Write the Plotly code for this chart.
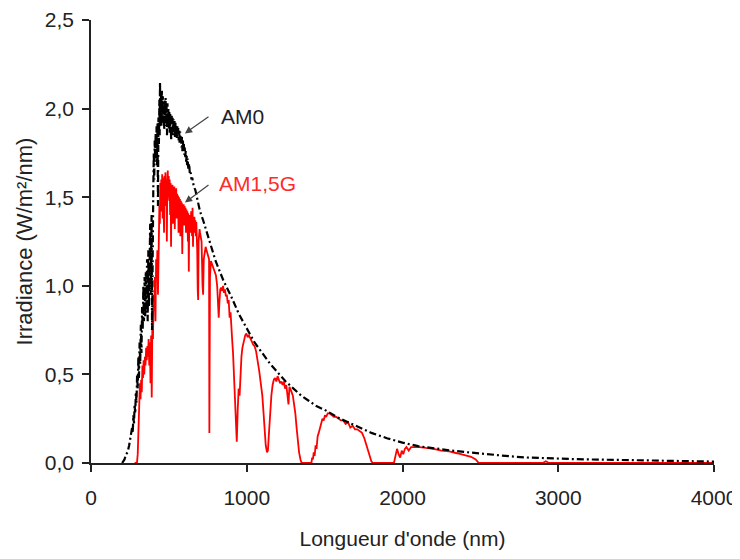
import plotly.graph_objects as go

# ---- data ----
am0_wl = [200, 215, 225, 235, 245, 252, 258, 264, 268, 272, 276, 280, 284, 288, 292, 296, 300, 304,
          308, 312, 316, 320, 324, 328, 332, 336, 340, 344, 348, 352, 356, 360, 364, 368, 372, 376,
          380, 383, 386, 389, 392, 395, 397, 400, 403, 406, 409, 412, 415, 418, 421, 424, 427, 430,
          433, 436, 439, 441, 443, 446, 449, 452, 455, 458, 461, 464, 467, 470, 473, 476, 479, 482,
          485, 488, 491, 494, 497, 500, 503, 506, 509, 512, 515, 518, 521, 524, 527, 530, 533, 536,
          539, 542, 545, 548, 551, 554, 557, 560, 563, 566, 569, 572, 575, 578, 581, 584, 587, 590,
          593, 596, 599, 602, 605, 608, 611, 614, 617, 620, 625, 630, 635, 640, 645, 650, 660, 670,
          680, 690, 700, 720, 750, 780, 800, 850, 900, 950, 1000, 1050, 1100, 1150, 1200, 1250, 1300,
          1350, 1400, 1450, 1500, 1600, 1700, 1800, 1900, 2000, 2100, 2200, 2300, 2400, 2500, 2600,
          2700, 2800, 2900, 3000, 3100, 3200, 3300, 3400, 3500, 3600, 3700, 3800, 3900, 4000]
am0_val = [0.00, 0.02, 0.05, 0.06, 0.10, 0.13, 0.16, 0.20, 0.17, 0.27, 0.22, 0.33, 0.28, 0.40, 0.34,
           0.50, 0.42, 0.60, 0.48, 0.68, 0.56, 0.78, 0.62, 0.88, 0.75, 1.00, 0.80, 1.05, 0.82, 1.08,
           0.85, 1.15, 0.80, 1.20, 0.88, 1.25, 1.35, 0.95, 1.25, 1.40, 0.75, 1.30, 0.80, 1.55, 1.75,
           1.60, 1.82, 1.70, 1.86, 1.72, 1.90, 1.68, 1.92, 1.45, 1.95, 1.80, 2.05, 1.85, 2.15, 1.95,
           2.08, 1.90, 2.10, 1.92, 2.07, 1.95, 2.04, 1.88, 2.05, 1.92, 2.06, 1.90, 2.02, 1.85, 2.03,
           1.92, 2.00, 1.88, 1.98, 1.86, 1.97, 1.90, 1.82, 1.96, 1.86, 1.95, 1.85, 1.94, 1.87, 1.93,
           1.84, 1.92, 1.86, 1.91, 1.83, 1.90, 1.85, 1.89, 1.82, 1.88, 1.80, 1.87, 1.81, 1.85, 1.78,
           1.84, 1.76, 1.82, 1.77, 1.80, 1.74, 1.78, 1.72, 1.76, 1.70, 1.74, 1.68, 1.72, 1.66, 1.69,
           1.63, 1.64, 1.60, 1.61, 1.56, 1.54, 1.50, 1.46, 1.42, 1.37, 1.28, 1.20, 1.14, 1.03, 0.94,
           0.84, 0.76, 0.68, 0.62, 0.56, 0.51, 0.46, 0.42, 0.38, 0.35, 0.32, 0.30, 0.25, 0.21, 0.17,
           0.14, 0.115, 0.095, 0.082, 0.072, 0.062, 0.053, 0.044, 0.037, 0.031, 0.027, 0.024, 0.022,
           0.020, 0.018, 0.016, 0.014, 0.012, 0.011, 0.010, 0.009, 0.008]

am15_wl = [280, 295, 300, 305, 310, 314, 318, 322, 326, 330, 334, 338, 342, 346, 350, 354, 358, 362,
           366, 370, 374, 378, 382, 386, 390, 394, 398, 402, 406, 410, 414, 418, 422, 426, 430, 433,
           436, 439, 442, 445, 448, 451, 454, 457, 460, 463, 466, 469, 472, 475, 478, 481, 484, 487,
           490, 493, 496, 499, 502, 505, 508, 511, 514, 517, 520, 523, 526, 529, 532, 535, 538, 541,
           544, 547, 550, 553, 556, 559, 562, 565, 568, 571, 574, 577, 580, 583, 586, 589, 592, 595,
           598, 601, 604, 607, 610, 613, 616, 619, 622, 625, 628, 631, 634, 637, 640, 643, 646, 649,
           652, 655, 658, 661, 664, 667, 670, 673, 676, 679, 682, 685, 688, 691, 694, 697, 700, 704,
           710, 716, 720, 724, 730, 736, 742, 748, 754, 758, 760, 762, 764, 770, 778, 786, 794, 802,
           810, 816, 820, 824, 830, 836, 842, 848, 854, 860, 866, 872, 878, 884, 890, 896, 900, 906,
           912, 918, 924, 930, 936, 942, 948, 954, 960, 966, 972, 978, 984, 990, 998, 1006, 1014,
           1022, 1030, 1040, 1050, 1060, 1070, 1080, 1090, 1100, 1108, 1115, 1122, 1130, 1136, 1142,
           1150, 1158, 1166, 1174, 1182, 1190, 1198, 1206, 1214, 1222, 1230, 1238, 1246, 1254, 1262,
           1268, 1274, 1280, 1288, 1296, 1304, 1312, 1320, 1328, 1336, 1345, 1352, 1415, 1420, 1425,
           1430, 1436, 1442, 1448, 1455, 1462, 1470, 1478, 1486, 1494, 1502, 1510, 1520, 1530, 1545,
           1560, 1575, 1590, 1605, 1620, 1635, 1650, 1665, 1680, 1695, 1710, 1725, 1740, 1755, 1770,
           1785, 1800, 1810, 1945, 1955, 1965, 1975, 1985, 1995, 2005, 2015, 2025, 2040, 2055, 2080,
           2110, 2150, 2200, 2250, 2300, 2350, 2400, 2440, 2470, 2490, 2900, 2920, 2940, 4000]
am15_val = [0.00, 0.00, 0.05, 0.18, 0.30, 0.45, 0.36, 0.47, 0.40, 0.55, 0.48, 0.58, 0.50, 0.60, 0.55,
            0.65, 0.58, 0.66, 0.60, 0.70, 0.55, 0.68, 0.45, 0.72, 0.37, 0.80, 0.70, 0.95, 0.86, 1.05,
            0.80, 1.15, 1.05, 1.20, 0.95, 1.30, 1.22, 1.45, 1.35, 1.58, 1.42, 1.60, 1.50, 1.63, 1.38,
            1.61, 1.52, 1.30, 1.62, 1.55, 1.64, 1.45, 1.60, 1.25, 1.58, 1.65, 1.50, 1.62, 1.48, 1.60,
            1.40, 1.58, 1.22, 1.54, 1.46, 1.57, 1.35, 1.55, 1.44, 1.56, 1.32, 1.53, 1.45, 1.55, 1.38,
            1.52, 1.42, 1.51, 1.30, 1.50, 1.44, 1.49, 1.28, 1.48, 1.40, 1.47, 1.18, 1.46, 1.38, 1.46,
            1.34, 1.45, 1.38, 1.44, 1.30, 1.43, 1.36, 1.42, 1.25, 1.41, 1.08, 1.40, 1.34, 1.40, 1.30,
            1.42, 1.35, 1.28, 1.44, 1.22, 1.38, 1.33, 1.39, 1.30, 1.37, 1.28, 1.36, 1.30, 1.20, 0.98,
            0.92, 1.25, 1.30, 1.32, 1.30, 1.28, 1.25, 1.00, 0.95, 1.15, 1.20, 1.22, 1.20, 1.18, 1.17,
            1.15, 0.17, 0.40, 1.05, 1.14, 1.12, 1.11, 1.08, 1.06, 1.00, 0.90, 0.82, 0.90, 0.98, 0.99,
            0.97, 1.00, 0.96, 0.98, 0.94, 0.95, 0.90, 0.92, 0.82, 0.85, 0.75, 0.70, 0.62, 0.50, 0.40,
            0.25, 0.12, 0.30, 0.42, 0.38, 0.55, 0.60, 0.65, 0.68, 0.70, 0.72, 0.73, 0.71, 0.72, 0.70,
            0.69, 0.67, 0.66, 0.63, 0.58, 0.52, 0.45, 0.38, 0.28, 0.18, 0.10, 0.06, 0.07, 0.16, 0.30,
            0.38, 0.44, 0.47, 0.48, 0.46, 0.49, 0.47, 0.45, 0.46, 0.44, 0.46, 0.42, 0.44, 0.38, 0.33,
            0.43, 0.42, 0.40, 0.38, 0.34, 0.28, 0.20, 0.12, 0.06, 0.02, 0.00, 0.00, 0.03, 0.02, 0.06,
            0.04, 0.10, 0.08, 0.15, 0.17, 0.20, 0.22, 0.25, 0.24, 0.27, 0.26, 0.28, 0.28, 0.27, 0.26,
            0.26, 0.25, 0.24, 0.24, 0.22, 0.23, 0.20, 0.21, 0.19, 0.19, 0.18, 0.17, 0.14, 0.10, 0.05,
            0.01, 0.00, 0.00, 0.04, 0.08, 0.05, 0.03, 0.07, 0.05, 0.08, 0.09, 0.07, 0.09, 0.09, 0.09,
            0.085, 0.08, 0.07, 0.065, 0.055, 0.045, 0.035, 0.02, 0.00, 0.00, 0.01, 0.00, 0.00]

x_ticks = [0, 1000, 2000, 3000, 4000]
x_ticklabels = ["0", "1000", "2000", "3000", "4000"]
y_ticks = [0.0, 0.5, 1.0, 1.5, 2.0, 2.5]
y_ticklabels = ["0,0", "0,5", "1,0", "1,5", "2,0", "2,5"]

FONT = "Liberation Sans, Arial, sans-serif"

fig = go.Figure()
fig.add_trace(go.Scatter(x=am15_wl, y=am15_val, mode="lines", name="AM1,5G",
                         line=dict(color="#ff0000", width=1.8), showlegend=False))
fig.add_trace(go.Scatter(x=am0_wl, y=am0_val, mode="lines", name="AM0",
                         line=dict(color="#000000", width=2.2, dash="7px,3px,2px,3px"),
                         showlegend=False))

# arrows
fig.add_annotation(x=603, y=1.86, ax=764, ay=1.96, xref="x", yref="y", axref="x", ayref="y",
                   text="", showarrow=True, arrowhead=2, arrowsize=1.2, arrowwidth=1.2,
                   arrowcolor="#444444")
fig.add_annotation(x=603, y=1.47, ax=764, ay=1.575, xref="x", yref="y", axref="x", ayref="y",
                   text="", showarrow=True, arrowhead=2, arrowsize=1.2, arrowwidth=1.2,
                   arrowcolor="#444444")
fig.add_annotation(x=825, y=1.958, xref="x", yref="y", text="AM0", showarrow=False,
                   xanchor="left", yanchor="middle", font=dict(family=FONT, size=21, color="#1e1e2a"))
fig.add_annotation(x=812, y=1.575, xref="x", yref="y", text="AM1,5G", showarrow=False,
                   xanchor="left", yanchor="middle", font=dict(family=FONT, size=21, color="#ff2a2a"))

# the page body adds an 8px margin, so the figure is sized to fit the 740x559 window
fig.update_layout(
    width=732, height=551,
    margin=dict(l=83, r=26, t=12, b=96),
    paper_bgcolor="white", plot_bgcolor="white",
    font=dict(family=FONT, size=21, color="#222222"),
    xaxis=dict(range=[0, 4000], tickvals=x_ticks, ticktext=x_ticklabels, automargin=False,
               showgrid=False, zeroline=False, showline=True, linecolor="#222222", linewidth=1.5,
               ticks="outside", ticklen=7, tickwidth=1.5, tickcolor="#222222",
               ticklabelstandoff=8, tickfont=dict(size=21), layer="below traces",
               title=dict(text="Longueur d'onde (nm)", font=dict(size=21), standoff=23)),
    yaxis=dict(range=[0, 2.5], tickvals=y_ticks, ticktext=y_ticklabels, automargin=False,
               showgrid=False, zeroline=False, showline=True, linecolor="#222222", linewidth=1.5,
               ticks="outside", ticklen=7, tickwidth=1.5, tickcolor="#222222",
               ticklabelstandoff=4, tickfont=dict(size=21), layer="below traces",
               title=dict(text="Irradiance (W/m²/nm)", font=dict(size=22), standoff=6)),
)

fig.write_html("out.html")
